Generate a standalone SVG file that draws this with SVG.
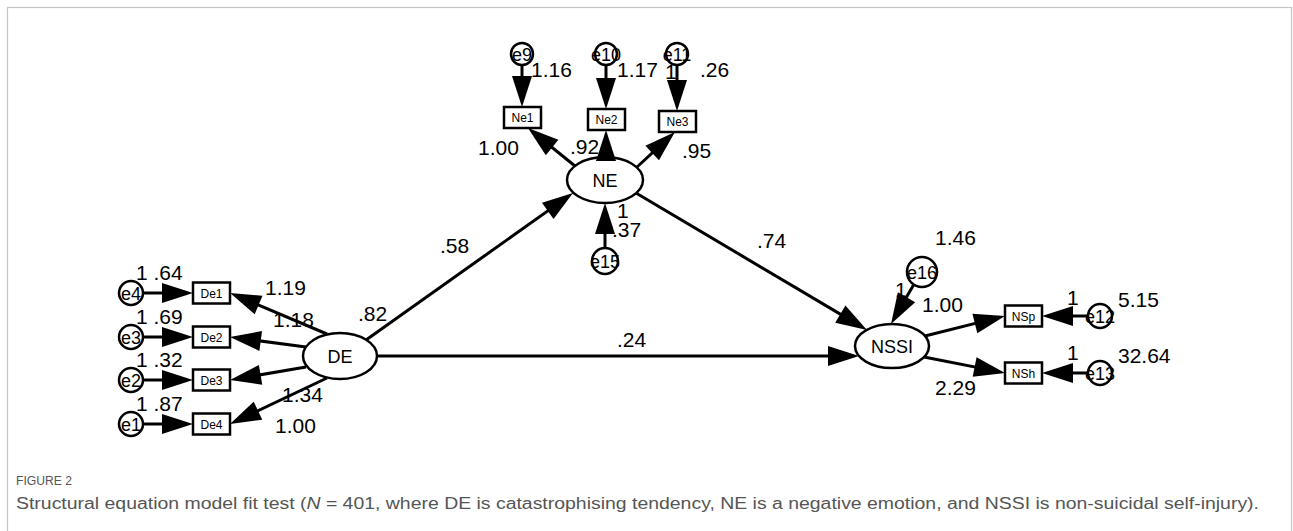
<svg xmlns="http://www.w3.org/2000/svg" width="1293" height="531" viewBox="0 0 1293 531">
<style>
.lat{fill:#fff;stroke:#000;stroke-width:2.5}
.box{fill:#fff;stroke:#000;stroke-width:2.5}
.err{fill:#fff;stroke:#000;stroke-width:2.5}
.ln{stroke:#000;stroke-width:3;fill:none;marker-end:url(#ah)}
.nt{font-family:"Liberation Sans",Arial,sans-serif;font-size:18px;text-anchor:middle;fill:#000}
.bt{font-family:"Liberation Sans",Arial,sans-serif;font-size:12px;text-anchor:middle;fill:#000}
.et{font-family:"Liberation Sans",Arial,sans-serif;font-size:18px;text-anchor:middle;fill:#000}
.lb{font-family:"Liberation Sans",Arial,sans-serif;font-size:21px;fill:#000}
.cap{font-family:"Liberation Sans",Arial,sans-serif;fill:#555}
</style>
<defs>
<marker id="ah" markerUnits="userSpaceOnUse" markerWidth="31" markerHeight="20" refX="23" refY="10" orient="auto" overflow="visible">
<path d="M0,0 L31,10 L0,20 z" fill="#000"/>
</marker>
</defs>
<rect x="7.5" y="7.5" width="1284" height="620" fill="#fff" stroke="#c4c4c4" stroke-width="1.2"/>

<g id="DE"><ellipse class="lat" cx="340" cy="356" rx="37" ry="23"/><text class="nt" x="340" y="363">DE</text></g>
<g id="NE"><ellipse class="lat" cx="605" cy="180" rx="38" ry="23"/><text class="nt" x="605" y="187">NE</text></g>
<g id="NSSI"><ellipse class="lat" cx="892" cy="346" rx="37" ry="22"/><text class="nt" x="892" y="353">NSSI</text></g>

<g id="De1"><rect class="box" x="193" y="282.5" width="37" height="21"/><text class="bt" x="211.5" y="297.5">De1</text></g>
<g id="De2"><rect class="box" x="193" y="326.5" width="37" height="21"/><text class="bt" x="211.5" y="341.5">De2</text></g>
<g id="De3"><rect class="box" x="193" y="369.5" width="37" height="21"/><text class="bt" x="211.5" y="384.5">De3</text></g>
<g id="De4"><rect class="box" x="193" y="413.5" width="37" height="21"/><text class="bt" x="211.5" y="428.5">De4</text></g>
<g id="Ne1"><rect class="box" x="504" y="107" width="37" height="21"/><text class="bt" x="522.5" y="122">Ne1</text></g>
<g id="Ne2"><rect class="box" x="588" y="109" width="37" height="21"/><text class="bt" x="606.5" y="124">Ne2</text></g>
<g id="Ne3"><rect class="box" x="659" y="111" width="37" height="21"/><text class="bt" x="677.5" y="126">Ne3</text></g>
<g id="NSp"><rect class="box" x="1005" y="305.5" width="37" height="21"/><text class="bt" x="1023.5" y="320.5">NSp</text></g>
<g id="NSh"><rect class="box" x="1005" y="362.5" width="37" height="21"/><text class="bt" x="1023.5" y="377.5">NSh</text></g>

<g id="e4"><circle class="err" cx="131" cy="293" r="12"/><text class="et" x="131" y="299.5">e4</text></g>
<g id="e3"><circle class="err" cx="131" cy="337" r="12"/><text class="et" x="131" y="343.5">e3</text></g>
<g id="e2"><circle class="err" cx="131" cy="380" r="12"/><text class="et" x="131" y="386.5">e2</text></g>
<g id="e1"><circle class="err" cx="131" cy="424" r="12"/><text class="et" x="131" y="430.5">e1</text></g>
<g id="e9"><circle class="err" cx="522" cy="54" r="11"/><text class="et" x="522" y="60.5">e9</text></g>
<g id="e10"><circle class="err" cx="606" cy="54" r="11"/><text class="et" x="606" y="60.5">e10</text></g>
<g id="e11"><circle class="err" cx="677" cy="54" r="11"/><text class="et" x="677" y="60.5">e11</text></g>
<g id="e15"><circle class="err" cx="605" cy="261" r="13"/><text class="et" x="605" y="267.5">e15</text></g>
<g id="e16"><circle class="err" cx="922" cy="272" r="15"/><text class="et" x="922" y="278.5">e16</text></g>
<g id="e12"><circle class="err" cx="1100" cy="316" r="12"/><text class="et" x="1100" y="322.5">e12</text></g>
<g id="e13"><circle class="err" cx="1100" cy="373" r="12"/><text class="et" x="1100" y="379.5">e13</text></g>

<g id="connectors">
<line class="ln" x1="143" y1="293" x2="185" y2="293"/>
<line class="ln" x1="143" y1="337" x2="185" y2="337"/>
<line class="ln" x1="143" y1="380" x2="185" y2="380"/>
<line class="ln" x1="143" y1="424" x2="185" y2="424"/>
<line class="ln" x1="327" y1="334" x2="237.4" y2="296.1"/>
<line class="ln" x1="306" y1="347" x2="237.9" y2="338"/>
<line class="ln" x1="306" y1="367" x2="237.9" y2="378.65"/>
<line class="ln" x1="327" y1="378" x2="237.2" y2="420.6"/>
<line class="ln" x1="366" y1="340" x2="566.5" y2="197.6"/>
<line class="ln" x1="377" y1="356" x2="851" y2="356"/>
<line class="ln" x1="636" y1="193" x2="860.1" y2="325.9"/>
<line class="ln" x1="575" y1="166" x2="534.2" y2="133"/>
<line class="ln" x1="606" y1="157" x2="606" y2="138"/>
<line class="ln" x1="637" y1="167" x2="669.1" y2="137.4"/>
<line class="ln" x1="522" y1="65" x2="522" y2="99"/>
<line class="ln" x1="606" y1="65" x2="606" y2="101"/>
<line class="ln" x1="677" y1="65" x2="677" y2="103"/>
<line class="ln" x1="605" y1="248" x2="605" y2="211"/>
<line class="ln" x1="913.8" y1="284.6" x2="895" y2="317.1"/>
<line class="ln" x1="925" y1="336" x2="997.2" y2="317.9"/>
<line class="ln" x1="924" y1="357" x2="997.2" y2="371.4"/>
<line class="ln" x1="1088" y1="316" x2="1050" y2="316"/>
<line class="ln" x1="1088" y1="373" x2="1050" y2="373"/>
</g>

<g id="labels">
<text class="lb" x="358" y="321">.82</text>
<text class="lb" x="440" y="253">.58</text>
<text class="lb" x="757" y="248">.74</text>
<text class="lb" x="617" y="347">.24</text>
<text class="lb" x="265" y="295">1.19</text>
<text class="lb" x="273" y="327">1.18</text>
<text class="lb" x="282" y="402">1.34</text>
<text class="lb" x="275" y="433">1.00</text>
<text class="lb" x="136" y="280">1 .64</text>
<text class="lb" x="136" y="324">1 .69</text>
<text class="lb" x="136" y="367">1 .32</text>
<text class="lb" x="136" y="411">1 .87</text>
<text class="lb" x="531" y="77">1.16</text>
<text class="lb" x="617" y="77">1.17</text>
<text class="lb" x="665" y="79">1</text>
<text class="lb" x="700" y="77">.26</text>
<text class="lb" x="478" y="155">1.00</text>
<text class="lb" x="570" y="154">.92</text>
<text class="lb" x="682" y="158">.95</text>
<text class="lb" x="617" y="218">1</text>
<text class="lb" x="612" y="237">.37</text>
<text class="lb" x="935" y="245">1.46</text>
<text class="lb" x="895" y="297">1</text>
<text class="lb" x="922" y="312">1.00</text>
<text class="lb" x="1067" y="305">1</text>
<text class="lb" x="1118" y="307">5.15</text>
<text class="lb" x="1067" y="360">1</text>
<text class="lb" x="1118" y="363">32.64</text>
<text class="lb" x="935" y="395">2.29</text>
</g>

<text class="cap" x="16" y="485" font-size="12" textLength="56" lengthAdjust="spacingAndGlyphs">FIGURE 2</text>
<text class="cap" x="16" y="509" font-size="16" textLength="1243" lengthAdjust="spacingAndGlyphs">Structural equation model fit test (<tspan font-style="italic">N</tspan> = 401, where DE is catastrophising tendency, NE is a negative emotion, and NSSI is non-suicidal self-injury).</text>
</svg>
